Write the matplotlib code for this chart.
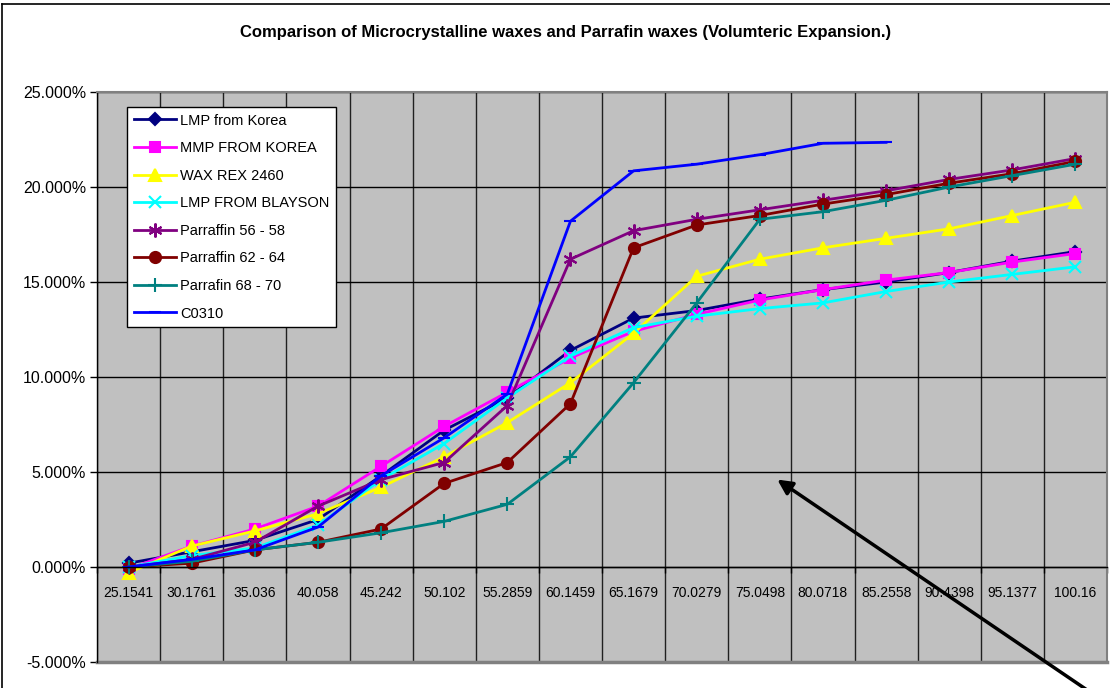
import numpy as np
import matplotlib
matplotlib.use("Agg")
import matplotlib.pyplot as plt
from matplotlib.lines import Line2D

plt.rcParams['font.family'] = ['Liberation Sans', 'DejaVu Sans']

# temperatures (category labels)
categories = ["25.1541", "30.1761", "35.036", "40.058", "45.242", "50.102", "55.2859",
              "60.1459", "65.1679", "70.0279", "75.0498", "80.0718", "85.2558",
              "90.4398", "95.1377", "100.16"]

# volumetric expansion in percent
lmp_korea = [0.2, 0.8, 1.4, 2.5, 4.8, 7.2, 8.9, 11.4, 13.1, 13.5, 14.1, 14.6, 15.0, 15.5, 16.1, 16.6]
mmp_korea = [-0.1, 1.1, 2.0, 3.2, 5.3, 7.4, 9.2, 11.0, 12.4, 13.3, 14.05, 14.6, 15.1, 15.5, 16.05, 16.5]
wax_rex = [-0.3, 1.1, 1.9, 2.8, 4.2, 5.8, 7.6, 9.7, 12.3, 15.3, 16.2, 16.8, 17.3, 17.8, 18.5, 19.2]
lmp_blayson = [0.0, 0.6, 1.0, 2.2, 4.6, 6.5, 8.9, 11.1, 12.6, 13.2, 13.6, 13.9, 14.5, 15.0, 15.4, 15.8]
paraffin_56 = [0.0, 0.4, 1.3, 3.2, 4.6, 5.5, 8.5, 16.2, 17.7, 18.3, 18.8, 19.3, 19.8, 20.4, 20.9, 21.5]
paraffin_62 = [0.0, 0.2, 0.9, 1.3, 2.0, 4.4, 5.5, 8.6, 16.8, 18.0, 18.5, 19.1, 19.6, 20.2, 20.7, 21.35]
paraffin_68 = [0.0, 0.3, 0.9, 1.3, 1.8, 2.4, 3.3, 5.8, 9.7, 13.9, 18.3, 18.7, 19.3, 20.0, 20.6, 21.2]
c0310 = [0.0, 0.4, 0.9, 2.1, 4.8, 6.8, 9.1, 18.2, 20.85, 21.2, 21.7, 22.3, 22.35, np.nan, np.nan, np.nan]

series = [
    ("LMP from Korea", lmp_korea, "#000080", "D", 6),
    ("MMP FROM KOREA", mmp_korea, "#FF00FF", "s", 7),
    ("WAX REX 2460", wax_rex, "#FFFF00", "^", 8),
    ("LMP FROM BLAYSON", lmp_blayson, "#00FFFF", "x", 8),
    ("Parraffin 56 - 58", paraffin_56, "#800080", (6, 2, 0), 10),
    ("Parraffin 62 - 64", paraffin_62, "#800000", "o", 8),
    ("Parrafin 68 - 70", paraffin_68, "#008080", "+", 10),
    ("C0310", c0310, "#0000FF", "_", 8),
]

fig = plt.figure(figsize=(11.1, 6.88), dpi=100)
ax = fig.add_axes([97 / 1110, 1 - 662 / 688, (1107 - 97) / 1110, (662 - 92) / 688])
ax.set_facecolor("#C0C0C0")

x = np.arange(len(categories))
for name, vals, col, mk, ms in series:
    ax.plot(x, np.array(vals, dtype=float) / 100, color=col, lw=2, marker=mk, ms=ms,
            mew=1.5, label=name)

ax.set_xlim(-0.5, len(categories) - 0.5)
ax.set_ylim(-0.05, 0.25)
yt = np.arange(-0.05, 0.2501, 0.05)
ax.set_yticks(yt)
ax.set_yticklabels(["%.3f%%" % (v * 100) for v in yt], fontsize=11.5)
ax.tick_params(axis='y', direction='out', length=5, width=1, pad=3)

ax.set_xticks(x)
ax.set_xticklabels(categories, fontsize=11)
ax.set_xticks(np.arange(-0.5, len(categories)), minor=True)
ax.tick_params(axis='x', which='major', length=0, pad=14)
ax.tick_params(axis='x', which='minor', direction='out', length=4, width=1)

ax.grid(True, axis='y', color='black', lw=1)
ax.grid(True, axis='x', which='minor', color='#202020', lw=1)
ax.set_axisbelow(True)

ax.spines['bottom'].set_position(('data', 0))
ax.spines['bottom'].set_linewidth(1)
ax.spines['left'].set_linewidth(1)
for s in ['top', 'right']:
    ax.spines[s].set_color('#808080')
    ax.spines[s].set_linewidth(1.5)
# plot area border at the bottom
ax.axhline(-0.05, color='#808080', lw=2.5, clip_on=False)

fig.text(566 / 1110, 1 - 32 / 688,
         "Comparison of Microcrystalline waxes and Parrafin waxes (Volumteric Expansion.)",
         fontsize=12, fontweight='bold', ha='center', va='center')

leg = ax.legend(loc='upper left', bbox_to_anchor=(127 / 1110, 1 - 107 / 688),
                bbox_transform=fig.transFigure, fontsize=10.5, frameon=True,
                fancybox=False, framealpha=1, edgecolor='black', handlelength=2.9,
                labelspacing=0.93, borderaxespad=0, borderpad=0.45, handletextpad=0.3)
leg.get_frame().set_linewidth(1)

# chart border (left and top)
fig.add_artist(Line2D([2 / 1110, 2 / 1110], [0, 1 - 4 / 688], color='black', lw=1.2,
                      transform=fig.transFigure))
fig.add_artist(Line2D([2 / 1110, 1], [1 - 4 / 688, 1 - 4 / 688], color='black', lw=1.2,
                      transform=fig.transFigure))

# arrow pointing into the chart
ax.annotate("", xy=(775, 688 - 478), xycoords='figure pixels',
            xytext=(1090, -4), textcoords='figure pixels',
            arrowprops=dict(arrowstyle='-|>', color='black', lw=2.5, mutation_scale=22))

fig.savefig("out.png", dpi=100)
